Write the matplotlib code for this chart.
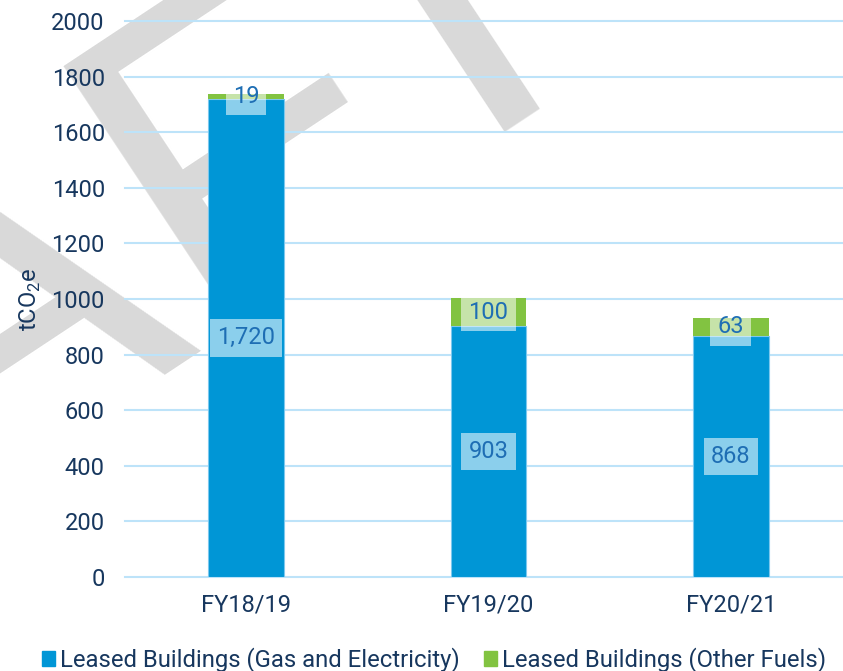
import numpy as np
import matplotlib
matplotlib.use("Agg")
import matplotlib.pyplot as plt
from matplotlib.patches import Patch

plt.rcParams['font.family'] = ['Roboto', 'DejaVu Sans']
plt.rcParams['mathtext.fontset'] = 'custom'
plt.rcParams['mathtext.rm'] = 'Roboto'

# data
years = ['FY18/19', 'FY19/20', 'FY20/21']
gas_elec = [1720, 903, 868]
other_fuels = [19, 100, 63]
series_names = ['Leased Buildings (Gas and Electricity)', 'Leased Buildings (Other Fuels)']

blue = '#0096D6'
green = '#82C341'
navy = '#17375E'
label_col = '#1E6EB4'
W, H = 843, 671

fig = plt.figure(figsize=(W / 100, H / 100), dpi=100)
ax = fig.add_axes([125 / W, 1 - 577 / H, 1 - 125 / W, (577 - 21) / H])
ax.patch.set_alpha(0)

# DRAFT watermark behind everything, letters placed along one slanted baseline
ang = 33.5
bx, by = np.cos(np.radians(ang)), -np.sin(np.radians(ang))
ux, uy = -19 * np.sin(np.radians(ang)), -19 * np.cos(np.radians(ang))  # baseline correction
x0, y0 = 205, 347   # right foot of the A, in pixels from top-left
wm = dict(fontsize=328, family='Liberation Sans', color='#D9D9D9', rotation=ang,
          rotation_mode='anchor', va='baseline', zorder=-5)
for txt, s, ha in [('DRA', 3, 'right'), ('F', 6, 'left'), ('T', 392, 'center')]:
    px, py = x0 + s * bx + ux, y0 + s * by + uy
    fig.text(px / W, 1 - py / H, txt, ha=ha, **wm)

x = np.arange(len(years))
b1 = ax.bar(x, gas_elec, width=0.313, color=blue, edgecolor='#7CC8EE', linewidth=0.8, zorder=2)
b2 = ax.bar(x, other_fuels, width=0.313, bottom=gas_elec, color=green, zorder=2)

box = dict(boxstyle='square,pad=0.3', facecolor='white', edgecolor='none', alpha=0.55)
ax.bar_label(b1, labels=[f'{v:,}' for v in gas_elec], label_type='center',
             fontsize=17, color=label_col, bbox=box, zorder=3)
ax.bar_label(b2, labels=[f'{v:,}' for v in other_fuels], label_type='center',
             fontsize=17, color=label_col, bbox=box, zorder=3)

ax.set_ylim(0, 2000)
ax.set_xlim(-0.5, 2.463)
ax.set_yticks(np.arange(0, 2001, 200))
ax.set_xticks(x)
ax.set_xticklabels(years)
ax.tick_params(length=0, labelsize=17, labelcolor=navy)
ax.tick_params(axis='y', pad=14.5)
ax.tick_params(axis='x', pad=12)
ax.grid(axis='y', color='#BDE3F9', linewidth=1.5, zorder=0)
ax.set_axisbelow(True)
for gl in ax.get_ygridlines():
    gl.set_clip_on(False)
for s in ax.spines.values():
    s.set_visible(False)

ax.set_ylabel(r'tCO$_\mathrm{2}$e', fontsize=17, color=navy)
ax.yaxis.set_label_coords(-(125 - 43) / (W - 125), 0.5)

handles = [Patch(color=blue), Patch(color=green)]
fig.legend(handles, series_names, loc='center', bbox_to_anchor=(434 / W, 1 - 660 / H),
           ncol=2, frameon=False, fontsize=17.2, labelcolor=navy,
           handlelength=0.55, handleheight=0.55, handletextpad=0.2, columnspacing=1.0)

fig.savefig('out.png', dpi=100)
